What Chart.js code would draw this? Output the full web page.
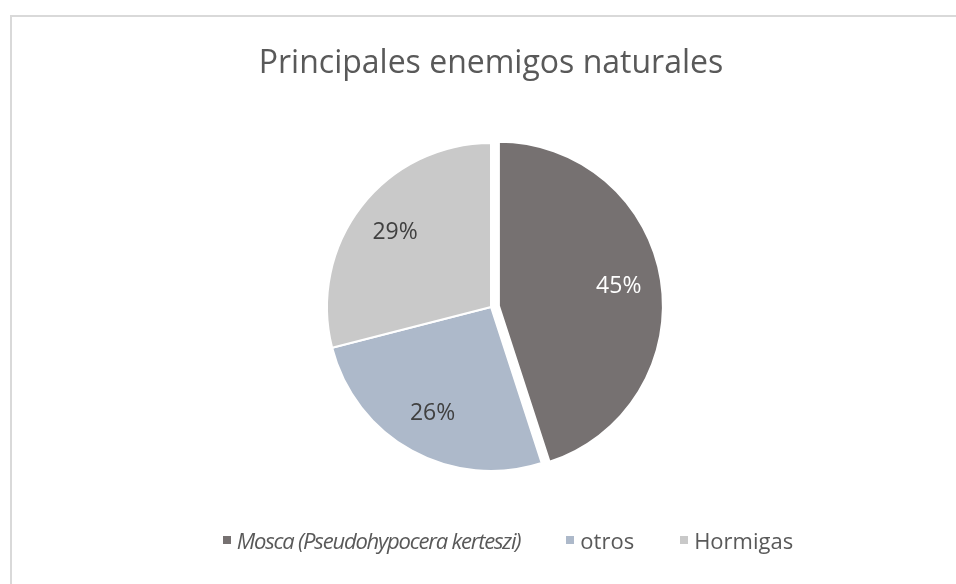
<!DOCTYPE html>
<html lang="es">
<head>
<meta charset="utf-8">
<title>Principales enemigos naturales</title>
<script src="https://cdn.jsdelivr.net/npm/chart.js@4.4.1/dist/chart.umd.min.js"></script>
<style>
  html, body { margin: 0; padding: 0; background: #fff; overflow: hidden; }
  #frame {
    position: absolute; left: 10px; top: 15px; width: 990px; height: 620px;
    border: 2px solid #d9d9d9; box-sizing: border-box;
  }
  #wrap { position: absolute; left: 0; top: 0; width: 956px; height: 584px; }
  #legend {
    position: absolute; left: 0; width: 1016px; top: 525px;
    display: flex; justify-content: center; align-items: center;
    font-family: "Open Sans", sans-serif; font-size: 22px; color: #595959;
    line-height: 30px; white-space: nowrap;
  }
  .item { display: flex; align-items: center; margin: 0 23px; }
  .box { width: 8px; height: 8px; margin-right: 6px; }
  .italic { font-style: italic; letter-spacing: -1.2px; }
</style>
</head>
<body>
<div id="frame"></div>
<div id="wrap"><canvas id="pieChart"></canvas></div>
<div id="legend"></div>

<script>
const categorias = ['Mosca (Pseudohypocera kerteszi)', 'otros', 'Hormigas'];
const valores = [45, 26, 29];
const colores = ['#767171', '#ADB9CA', '#C9C9C9'];
const colorEtiqueta = ['#ffffff', '#404040', '#404040'];
const cursiva = [true, false, false];

// separa la porción indicada (como el "explode" de Excel)
const explodePlugin = {
  id: 'explode',
  beforeDatasetDraw(chart, args, opts) {
    const ctx = chart.ctx;
    args.meta.data.forEach((arc, i) => {
      const mid = (arc.startAngle + arc.endAngle) / 2;
      const d = i === opts.index ? opts.distance : 0;
      ctx.save();
      ctx.translate(Math.cos(mid) * d, Math.sin(mid) * d);
      arc.draw(ctx);
      ctx.restore();
    });
    return false;
  }
};

// porcentajes dentro de cada porción
const etiquetasPlugin = {
  id: 'etiquetas',
  afterDatasetsDraw(chart, args, opts) {
    const ctx = chart.ctx;
    const meta = chart.getDatasetMeta(0);
    const data = chart.data.datasets[0].data;
    const total = data.reduce((a, b) => a + b, 0);
    const exp = chart.options.plugins.explode;
    ctx.save();
    ctx.font = '23px "Open Sans"';
    ctx.textAlign = 'center';
    ctx.textBaseline = 'middle';
    meta.data.forEach((arc, i) => {
      const mid = (arc.startAngle + arc.endAngle) / 2;
      const d = i === exp.index ? exp.distance : 0;
      const r = arc.outerRadius * opts.factor + d;
      ctx.fillStyle = colorEtiqueta[i];
      ctx.fillText(Math.round(data[i] / total * 100) + '%',
        arc.x + Math.cos(mid) * r, arc.y + Math.sin(mid) * r);
    });
    ctx.restore();
  }
};

new Chart(document.getElementById('pieChart'), {
  type: 'pie',
  data: {
    labels: categorias,
    datasets: [{
      data: valores,
      backgroundColor: colores,
      borderColor: '#ffffff',
      borderWidth: 2
    }]
  },
  options: {
    responsive: true,
    maintainAspectRatio: false,
    animation: false,
    events: [],
    layout: { padding: { left: 26, right: 0, top: 0, bottom: 112 } },
    plugins: {
      legend: { display: false },
      tooltip: { enabled: false },
      title: {
        display: true,
        text: 'Principales enemigos naturales',
        color: '#595959',
        font: { family: 'Open Sans', size: 32, weight: 'normal', lineHeight: 1.2 },
        padding: { top: 45, bottom: 58.6 }
      },
      explode: { index: 0, distance: 8 },
      etiquetas: { factor: 0.74 }
    }
  },
  plugins: [explodePlugin, etiquetasPlugin]
});

// leyenda
const leyenda = document.getElementById('legend');
categorias.forEach((c, i) => {
  const item = document.createElement('div');
  item.className = 'item';
  const box = document.createElement('span');
  box.className = 'box';
  box.style.background = colores[i];
  const txt = document.createElement('span');
  txt.textContent = c;
  if (cursiva[i]) txt.className = 'italic';
  item.appendChild(box);
  item.appendChild(txt);
  leyenda.appendChild(item);
});
</script>
</body>
</html>
